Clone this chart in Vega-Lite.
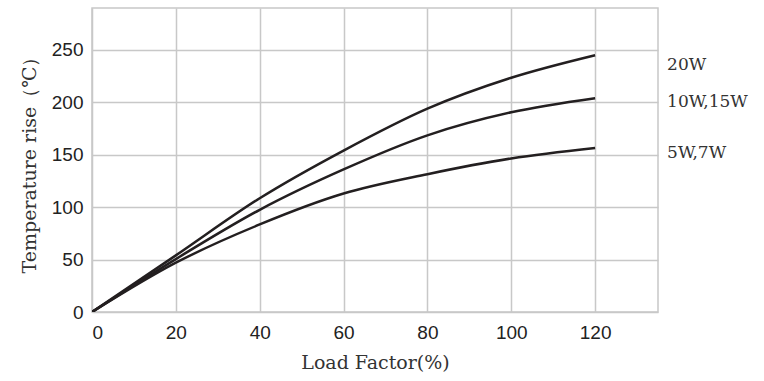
{
  "$schema": "https://vega.github.io/schema/vega-lite/v6.json",
  "autosize": {"type": "none"},
  "width": 566,
  "height": 304,
  "padding": {"left": 92, "top": 8, "right": 106, "bottom": 69},
  "background": "white",
  "config": {
    "view": {"stroke": "#c8c8c8", "strokeWidth": 1.5},
    "axis": {
      "grid": true,
      "gridColor": "#c8c8c8",
      "gridWidth": 1.5,
      "domain": false,
      "ticks": false,
      "labelFont": "Liberation Sans",
      "labelFontSize": 19,
      "labelColor": "#222222",
      "titleFont": "DejaVu Serif",
      "titleFontWeight": "normal",
      "titleFontSize": 19,
      "titleColor": "#333333"
    }
  },
  "datasets": {
    "curves": [
      {"load": 0, "temp": 0, "series": "20W"},
      {"load": 20, "temp": 54, "series": "20W"},
      {"load": 40, "temp": 108.5, "series": "20W"},
      {"load": 60, "temp": 154, "series": "20W"},
      {"load": 80, "temp": 194, "series": "20W"},
      {"load": 100, "temp": 223.5, "series": "20W"},
      {"load": 120, "temp": 245, "series": "20W"},
      {"load": 0, "temp": 0, "series": "10W,15W"},
      {"load": 20, "temp": 50.5, "series": "10W,15W"},
      {"load": 40, "temp": 97.5, "series": "10W,15W"},
      {"load": 60, "temp": 136, "series": "10W,15W"},
      {"load": 80, "temp": 168.5, "series": "10W,15W"},
      {"load": 100, "temp": 190.5, "series": "10W,15W"},
      {"load": 120, "temp": 204, "series": "10W,15W"},
      {"load": 0, "temp": 0, "series": "5W,7W"},
      {"load": 20, "temp": 47, "series": "5W,7W"},
      {"load": 40, "temp": 83.5, "series": "5W,7W"},
      {"load": 60, "temp": 113, "series": "5W,7W"},
      {"load": 80, "temp": 131.5, "series": "5W,7W"},
      {"load": 100, "temp": 146.5, "series": "5W,7W"},
      {"load": 120, "temp": 156.5, "series": "5W,7W"}
    ],
    "labels": [
      {"load": 120, "temp": 236, "label": "20W"},
      {"load": 120, "temp": 200, "label": "10W,15W"},
      {"load": 120, "temp": 152, "label": "5W,7W"}
    ]
  },
  "layer": [
    {
      "data": {"name": "curves"},
      "mark": {"type": "line", "interpolate": "monotone", "color": "#231f20", "strokeWidth": 2.5, "clip": true},
      "encoding": {
        "x": {
          "field": "load",
          "type": "quantitative",
          "scale": {"domain": [0, 135], "nice": false, "zero": false},
          "axis": {"values": [0, 20, 40, 60, 80, 100, 120], "title": "Load Factor(%)", "labelPadding": 11, "titlePadding": 11}
        },
        "y": {
          "field": "temp",
          "type": "quantitative",
          "scale": {"domain": [0, 290], "nice": false, "zero": false},
          "axis": {"values": [0, 50, 100, 150, 200, 250], "title": "Temperature rise（℃）", "labelPadding": 9, "titlePadding": 12}
        },
        "detail": {"field": "series"}
      }
    },
    {
      "data": {"name": "labels"},
      "mark": {"type": "text", "align": "left", "baseline": "middle", "dx": 72, "font": "DejaVu Serif", "fontSize": 17, "color": "#333333"},
      "encoding": {
        "x": {"field": "load", "type": "quantitative"},
        "y": {"field": "temp", "type": "quantitative"},
        "text": {"field": "label"}
      }
    }
  ]
}
